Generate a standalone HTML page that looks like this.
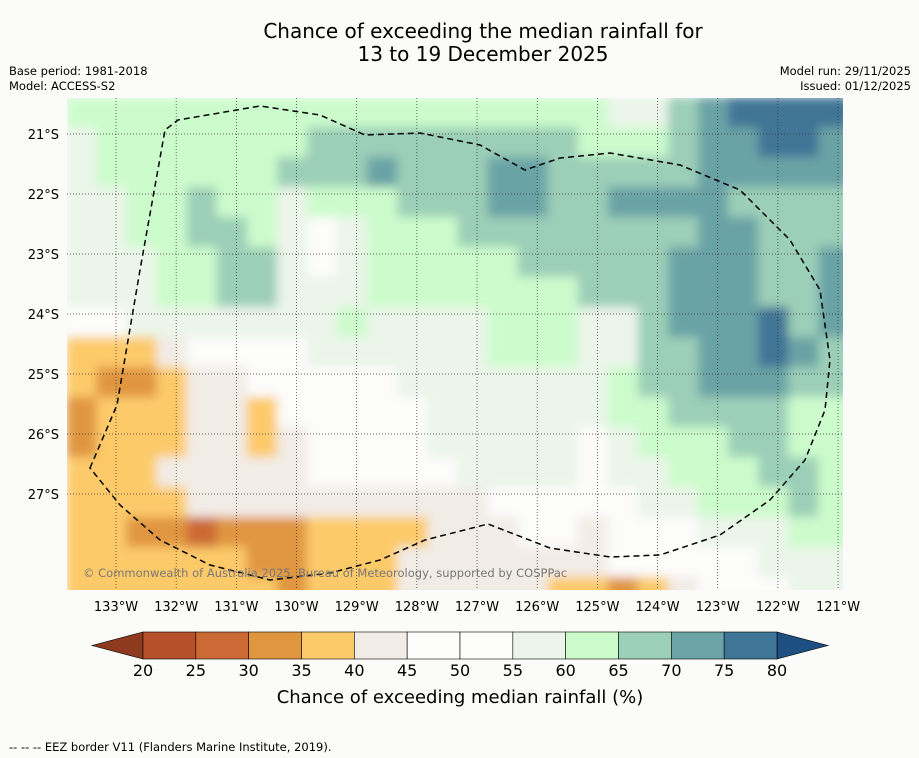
<!DOCTYPE html>
<html><head><meta charset="utf-8">
<style>
body{margin:0;background:#fbfcfa;font-family:"DejaVu Sans","Liberation Sans",sans-serif;}
svg{display:block;font-family:"DejaVu Sans","Liberation Sans",sans-serif;}
</style></head>
<body>
<svg width="919" height="758" viewBox="0 0 919 758" xmlns="http://www.w3.org/2000/svg">
<rect width="919" height="758" fill="#fbfcfa"/>
<text x="483" y="38" text-anchor="middle" font-size="20" fill="#000">Chance of exceeding the median rainfall for</text>
<text x="483" y="61" text-anchor="middle" font-size="20" fill="#000">13 to 19 December 2025</text>
<text x="9" y="75" font-size="11.5">Base period: 1981-2018</text>
<text x="9" y="90" font-size="11.5">Model: ACCESS-S2</text>
<text x="911" y="75" font-size="11.5" text-anchor="end">Model run: 29/11/2025</text>
<text x="911" y="90" font-size="11.5" text-anchor="end">Issued: 01/12/2025</text>
<defs>
<clipPath id="mapclip"><rect x="67" y="98" width="776" height="492"/></clipPath>
<filter id="soft" x="-5%" y="-5%" width="110%" height="110%"><feGaussianBlur stdDeviation="5"/></filter>
</defs>
<g clip-path="url(#mapclip)">
<rect x="67" y="98" width="776" height="492" fill="#fbfcfa"/>
<g id="cells" filter="url(#soft)"></g>
<g id="grid"></g>
<path d="M90,468 L117,405 L140,270 L165,130 L178,120 L260,106 L320,115 L365,135 L420,133 L480,145 L525,170 L560,158 L610,153 L680,165 L740,190 L790,240 L820,290 L830,360 L825,410 L805,460 L770,500 L720,535 L660,555 L610,557 L550,548 L488,524 L425,540 L380,560 L330,573 L270,580 L210,565 L160,540 L120,505 Z" fill="none" stroke="#000" stroke-width="1.5" stroke-dasharray="6,4"/>
<text x="83" y="577" font-size="11.5" fill="#777">© Commonwealth of Australia 2025, Bureau of Meteorology, supported by COSPPac</text>
</g>
<g id="axislabels"></g>
<g id="colorbar"></g>
<text x="460" y="703" text-anchor="middle" font-size="18">Chance of exceeding median rainfall (%)</text>
<text x="9" y="751" font-size="11.5">-- -- -- EEZ border V11 (Flanders Marine Institute, 2019).</text>
</svg>
<script>
const NS="http://www.w3.org/2000/svg";
const levels=[20,25,30,35,40,45,50,55,60,65,70,75,80];
const levelColors=["#b5502a","#cc6a35","#e0963f","#fdca6a","#f2ece6","#fcfcfb","#fcfcfb","#ebf5e9","#ccfccc","#9ccfb8","#6ba3a6","#3f7596"];
const lonTicks=[133,132,131,130,129,128,127,126,125,124,123,122,121];
const latTicks=[21,22,23,24,25,26,27];
const gridLonStart=133.81, gridLatStart=20.4, cellDeg=0.5;
const field=[
[62,62,62,62,62,62,62,62,62,62,62,62,62,62,62,62,62,62,57,57,67,72,77,77,77,77],
[57,62,62,62,62,62,62,62,67,67,67,67,67,67,67,67,67,62,62,62,67,72,72,77,77,72],
[57,62,62,62,62,62,62,67,67,67,72,67,67,67,72,72,67,67,67,67,67,72,72,72,72,72],
[57,57,62,62,67,62,62,57,62,62,62,67,67,67,72,72,67,67,72,72,72,72,67,67,67,67],
[57,57,62,62,67,67,62,57,52,57,62,62,62,67,67,67,67,67,67,67,67,72,72,67,67,67],
[57,57,57,62,62,67,67,57,52,57,62,62,62,62,62,67,67,67,67,67,72,72,72,67,67,72],
[57,57,57,62,62,67,67,57,57,57,62,62,62,62,62,62,62,67,67,67,72,72,72,67,67,72],
[52,52,57,57,57,57,57,57,57,62,57,57,57,57,62,62,62,57,57,67,72,72,72,77,67,72],
[37,37,37,42,47,52,52,52,57,57,57,57,57,57,62,62,62,57,57,67,67,72,72,77,72,67],
[37,32,32,37,42,42,47,47,52,52,52,57,57,57,57,57,57,57,62,67,67,72,72,72,67,67],
[32,37,37,37,42,42,37,47,52,52,52,52,57,57,57,57,57,57,62,62,67,67,67,67,62,62],
[32,37,37,37,42,42,37,42,47,52,52,52,57,57,57,57,57,52,57,62,62,62,67,67,62,62],
[37,37,37,42,42,42,42,42,47,47,52,52,52,57,57,57,57,52,57,57,62,62,62,67,67,62],
[37,37,37,37,42,42,42,42,42,42,42,42,42,42,47,47,52,52,52,57,57,62,62,62,67,62],
[37,37,32,32,27,32,32,32,37,37,37,37,42,42,42,47,47,42,47,52,52,57,57,57,62,62],
[37,37,37,37,37,37,32,32,37,37,37,42,42,42,42,42,42,42,47,47,52,52,52,57,57,57],
[37,37,37,37,37,37,37,32,37,37,37,42,42,42,42,42,37,37,32,37,42,47,52,52,57,57]
];
function xLon(lon){return 116+(133-lon)*60.17;}
function yLat(lat){return 134+(lat-21)*60;}
function colorFor(v){let i=Math.floor((v-20)/5);i=Math.max(0,Math.min(levelColors.length-1,i));return levelColors[i];}
const cells=document.getElementById('cells');
field.forEach((row,r)=>row.forEach((v,c)=>{
  const lon0=gridLonStart-c*cellDeg, lat0=gridLatStart+r*cellDeg;
  const x0=xLon(lon0), x1=xLon(lon0-cellDeg), y0=yLat(lat0), y1=yLat(lat0+cellDeg);
  const rect=document.createElementNS(NS,'rect');
  rect.setAttribute('x',x0-1);rect.setAttribute('y',y0-1);
  rect.setAttribute('width',x1-x0+2);rect.setAttribute('height',y1-y0+2);
  rect.setAttribute('fill',colorFor(v));
  
  
  cells.appendChild(rect);
}));
const grid=document.getElementById('grid'), al=document.getElementById('axislabels');
lonTicks.forEach(l=>{
  const x=xLon(l);
  const ln=document.createElementNS(NS,'line');
  ln.setAttribute('x1',x);ln.setAttribute('x2',x);ln.setAttribute('y1',98);ln.setAttribute('y2',590);
  ln.setAttribute('stroke','#333');ln.setAttribute('stroke-width','0.7');ln.setAttribute('stroke-dasharray','1,2');
  
  
  grid.appendChild(ln);
  const t=document.createElementNS(NS,'text');
  t.setAttribute('x',x);t.setAttribute('y',611);t.setAttribute('text-anchor','middle');t.setAttribute('font-size','13');
  t.textContent=l+'°W';
  
  
  al.appendChild(t);
});
latTicks.forEach(l=>{
  const y=yLat(l);
  const ln=document.createElementNS(NS,'line');
  ln.setAttribute('x1',67);ln.setAttribute('x2',843);ln.setAttribute('y1',y);ln.setAttribute('y2',y);
  ln.setAttribute('stroke','#333');ln.setAttribute('stroke-width','0.7');ln.setAttribute('stroke-dasharray','1,2');
  
  
  grid.appendChild(ln);
  const t=document.createElementNS(NS,'text');
  t.setAttribute('x',59);t.setAttribute('y',y+5);t.setAttribute('text-anchor','end');t.setAttribute('font-size','13');
  t.textContent=l+'°S';
  
  
  al.appendChild(t);
});
const cb=document.getElementById('colorbar');
function xCb(v){return 143+(v-20)*(634/60);}
const cbTop=632,cbH=27;
const lt=document.createElementNS(NS,'polygon');
lt.setAttribute('points',`${xCb(20)},${cbTop} ${xCb(20)},${cbTop+cbH} 92,${cbTop+cbH/2}`);
lt.setAttribute('fill','#8e3a1f');lt.setAttribute('stroke','#000');lt.setAttribute('stroke-width','0.6');


cb.appendChild(lt);
const rt=document.createElementNS(NS,'polygon');
rt.setAttribute('points',`${xCb(80)},${cbTop} ${xCb(80)},${cbTop+cbH} 828,${cbTop+cbH/2}`);
rt.setAttribute('fill','#1d4f82');rt.setAttribute('stroke','#000');rt.setAttribute('stroke-width','0.6');


cb.appendChild(rt);
levelColors.forEach((c,i)=>{
  const r=document.createElementNS(NS,'rect');
  r.setAttribute('x',xCb(levels[i]));r.setAttribute('y',cbTop);
  r.setAttribute('width',xCb(levels[i+1])-xCb(levels[i]));r.setAttribute('height',cbH);
  r.setAttribute('fill',c);r.setAttribute('stroke','#000');r.setAttribute('stroke-width','0.6');
  
  
  cb.appendChild(r);
});
levels.forEach(v=>{
  const t=document.createElementNS(NS,'text');
  t.setAttribute('x',xCb(v));t.setAttribute('y',676);t.setAttribute('text-anchor','middle');t.setAttribute('font-size','16');
  t.textContent=v;
  
  
  cb.appendChild(t);
});
</script>
</body></html>
